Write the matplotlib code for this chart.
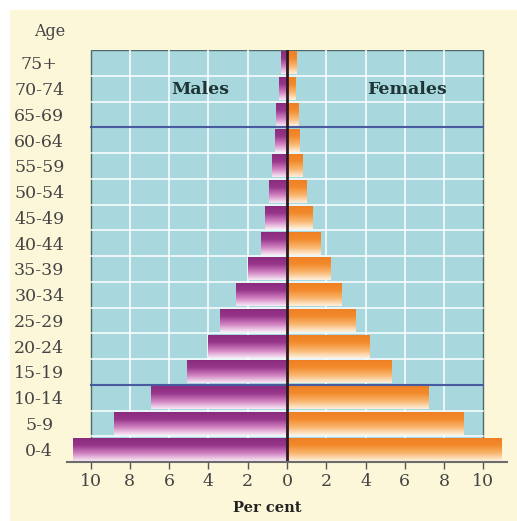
import numpy as np
import matplotlib
matplotlib.use("Agg")
from matplotlib import pyplot as plt
from matplotlib.colors import LinearSegmentedColormap
from matplotlib.patches import Rectangle

# age groups, bottom to top
ages = ['0-4', '5-9', '10-14', '15-19', '20-24', '25-29', '30-34', '35-39',
        '40-44', '45-49', '50-54', '55-59', '60-64', '65-69', '70-74', '75+']
males = [10.9, 8.8, 6.9, 5.1, 4.0, 3.4, 2.6, 2.0,
         1.3, 1.1, 0.9, 0.75, 0.6, 0.55, 0.4, 0.3]
females = [10.9, 9.0, 7.2, 5.3, 4.2, 3.5, 2.75, 2.2,
           1.7, 1.3, 1.0, 0.78, 0.65, 0.6, 0.45, 0.5]
xticks = [-10, -8, -6, -4, -2, 0, 2, 4, 6, 8, 10]
xticklabels = ['10', '8', '6', '4', '2', '0', '2', '4', '6', '8', '10']

cream = '#fdf7da'
blue = '#a8d8de'
serif = 'DejaVu Serif'

fig = plt.figure(figsize=(5.17, 5.21), dpi=100)
fig.patch.set_facecolor('white')
fig.add_artist(Rectangle((10 / 517, 0), 1, 1 - 10 / 521, transform=fig.transFigure,
                         facecolor=cream, edgecolor='none', zorder=0))

ax = fig.add_axes([67 / 517, 59 / 521, 440 / 517, 412 / 521])
ax.set_facecolor('none')

# blue panel with white grid
ax.add_patch(Rectangle((-10, -0.5), 20, len(ages), facecolor=blue,
                       edgecolor='#4f6a6a', lw=1.0, zorder=1))
for gx in range(-8, 9, 2):
    ax.plot([gx, gx], [-0.5, len(ages) - 0.5], color='white', lw=1.1, zorder=2)
for gy in np.arange(0.5, len(ages) - 0.5, 1):
    ax.plot([-10, 10], [gy, gy], color='white', lw=1.1, zorder=2)

# gradient bars: dark at top, pale at bottom
male_cmap = LinearSegmentedColormap.from_list('m', ['#f8e8f4', '#cf7fbf', '#96358a', '#8a2a7c'])
female_cmap = LinearSegmentedColormap.from_list('f', ['#fef0dc', '#f9b46c', '#f28a2c', '#ef7f22'])
grad = np.linspace(0, 1, 64).reshape(-1, 1)

y = np.arange(len(ages))
mbars = ax.barh(y, [-v for v in males], height=0.9, color='none', zorder=3)
fbars = ax.barh(y, females, height=0.9, color='none', zorder=3)
for bars, cmap in [(mbars, male_cmap), (fbars, female_cmap)]:
    for b in bars:
        x0, y0 = b.get_x(), b.get_y()
        w, h = b.get_width(), b.get_height()
        im = ax.imshow(grad, cmap=cmap, aspect='auto', origin='lower',
                       extent=[x0, x0 + w, y0, y0 + h], zorder=3)
        im.set_clip_path(b)

ax.set_xlim(-11.2, 11.2)
ax.set_ylim(-0.5, len(ages) - 0.5)

# dividing lines
ax.plot([-10, 10], [2.5, 2.5], color='#4a5a9e', lw=1.5, zorder=4)
ax.plot([-10, 10], [12.5, 12.5], color='#4a5a9e', lw=1.5, zorder=4)
ax.plot([0, 0], [-0.5, len(ages) - 0.5], color='#2b1820', lw=2, zorder=5)

ax.text(-4.4, 13.95, 'Males', family=serif, fontweight='bold', fontsize=12.5,
        color='#1f3535', ha='center', va='center', zorder=6)
ax.text(6.1, 13.95, 'Females', family=serif, fontweight='bold', fontsize=12.5,
        color='#1f3535', ha='center', va='center', zorder=6)

for s in ['top', 'left', 'right']:
    ax.spines[s].set_visible(False)
ax.spines['bottom'].set_color('#6b6b6b')
ax.spines['bottom'].set_linewidth(1.5)
ax.spines['bottom'].set_zorder(6)

ax.set_xticks(xticks)
ax.set_xticklabels(xticklabels, family=serif, fontsize=12.5, color='#444444')
ax.tick_params(axis='x', length=5, width=1, color='#555555', pad=3)
ax.set_yticks(y)
ax.set_yticklabels(ages, family=serif, fontsize=12.5, color='#444444')
ax.tick_params(axis='y', length=0, pad=20)
for lab in ax.get_yticklabels():
    lab.set_horizontalalignment('center')

fig.text(50 / 517, 1 - 32 / 521, 'Age', family=serif, fontsize=11.5,
         color='#444444', ha='center', va='center')
fig.text(267 / 517, 1 - 508 / 521, 'Per cent', family=serif, fontsize=10.5,
         fontweight='bold', color='#222222', ha='center', va='center')

fig.savefig('out.png', dpi=100)
